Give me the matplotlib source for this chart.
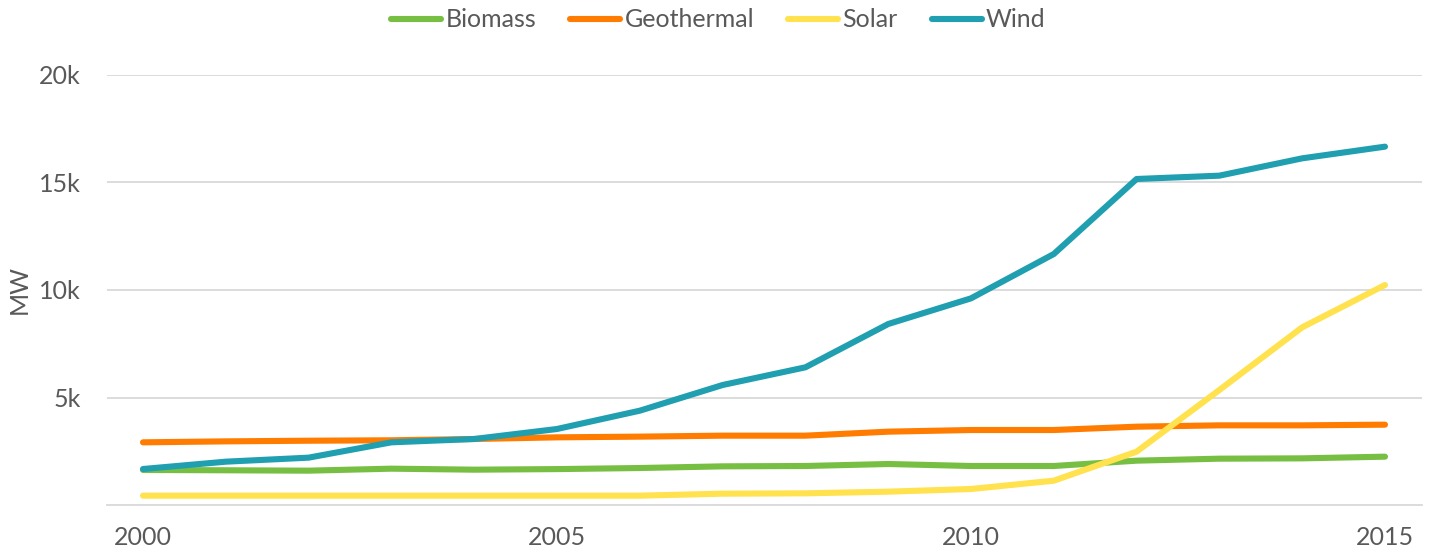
import matplotlib
import matplotlib.pyplot as plt
from matplotlib.ticker import FuncFormatter

matplotlib.use('Agg')

years = list(range(2000, 2016))
biomass = [1630, 1615, 1597, 1690, 1643, 1670, 1720, 1798, 1814, 1907, 1814, 1814, 2062, 2155, 2170, 2248]
geothermal = [2915, 2960, 2990, 3010, 3070, 3147, 3180, 3225, 3225, 3411, 3488, 3488, 3643, 3705, 3705, 3736]
solar = [434, 434, 434, 434, 434, 434, 434, 527, 543, 620, 744, 1131, 2481, 5350, 8264, 10232]
wind = [1674, 2015, 2202, 2915, 3070, 3535, 4387, 5581, 6404, 8418, 9612, 11674, 15163, 15318, 16124, 16667]

series = [
    ('Biomass', biomass, '#77BF43'),
    ('Geothermal', geothermal, '#FF7C00'),
    ('Solar', solar, '#FFE24D'),
    ('Wind', wind, '#209FB1'),
]

plt.rcParams['font.family'] = ['Lato', 'DejaVu Sans']
text_color = '#595959'
fs = 18

fig = plt.figure(figsize=(14.34, 5.54), dpi=100)
ax = fig.add_axes([107 / 1434, 1 - 505 / 554, (1422 - 107) / 1434, (505 - 75) / 554])

for name, vals, col in series:
    ax.plot(years, vals, color=col, lw=4.4, label=name,
            solid_capstyle='round', solid_joinstyle='round')

ax.set_xlim(1999.565, 2015.447)
ax.set_ylim(0, 20000)
ax.set_xticks([2000, 2005, 2010, 2015])
ax.set_yticks([5000, 10000, 15000, 20000])
ax.yaxis.set_major_formatter(FuncFormatter(lambda v, p: '%dk' % (v / 1000)))

ax.grid(axis='y', color='#D9D9D9', lw=1.3)
ax.set_axisbelow(True)
for s in ['top', 'right', 'left']:
    ax.spines[s].set_visible(False)
ax.spines['bottom'].set_color('#D9D9D9')
ax.spines['bottom'].set_linewidth(1.3)

ax.tick_params(axis='both', length=0, labelsize=fs, colors=text_color)
ax.tick_params(axis='x', pad=15)
ax.tick_params(axis='y', pad=19)

ax.set_ylabel('MW', fontsize=fs, color=text_color, labelpad=6)

ax.legend(loc='center', bbox_to_anchor=(0.465, 1 + 55 / 430), ncol=4, frameon=False,
          fontsize=fs, handlelength=2.0, handletextpad=0.18, columnspacing=1.35,
          labelcolor=text_color)

fig.savefig('out.png', dpi=100)
